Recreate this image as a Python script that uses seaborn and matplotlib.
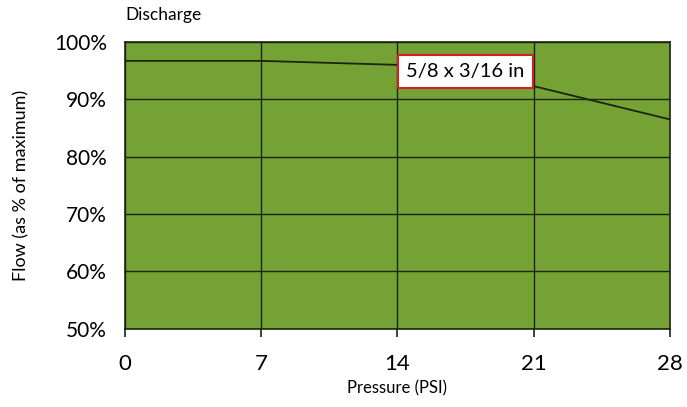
import pandas as pd
import matplotlib
matplotlib.use("Agg")
import matplotlib.pyplot as plt
import seaborn as sns

# Values
pressure = [0, 7, 14, 21, 28]
flow = [96.7, 96.7, 96.0, 92.3, 86.5]
x_ticks = [0, 7, 14, 21, 28]
y_ticks = [50, 60, 70, 80, 90, 100]
series_label = "5/8 x 3/16 in"

df = pd.DataFrame({"Pressure": pressure, "Flow": flow})

sns.set_style("ticks")
plt.rcParams["font.family"] = ["Lato", "DejaVu Sans"]
plt.rcParams["text.color"] = "black"
plt.rcParams["xtick.color"] = "black"
plt.rcParams["ytick.color"] = "black"
plt.rcParams["axes.labelcolor"] = "black"

fig = plt.figure(figsize=(6.87, 4.07), dpi=100)
ax = fig.add_axes([0.182, 0.192, 0.793, 0.705])
ax.set_facecolor("#74a234")

sns.lineplot(data=df, x="Pressure", y="Flow", ax=ax, color="#1a2410", linewidth=1.3, zorder=3)

ax.set_xlim(0, 28)
ax.set_ylim(50, 100)
ax.set_xticks(x_ticks)
ax.set_yticks(y_ticks)
ax.set_yticklabels([f"{v}%" for v in y_ticks])
ax.grid(True, color="#1a2410", linewidth=1.0)
ax.set_axisbelow(True)
for s in ax.spines.values():
    s.set_color("#1a2410")
    s.set_linewidth(1.2)

ax.tick_params(axis="x", labelsize=16, length=6, width=1.2, color="#1a2410", pad=12)
ax.tick_params(axis="y", labelsize=15, length=0, pad=13)
ax.set_xlabel("Pressure (PSI)", fontsize=12, labelpad=5)
ax.set_ylabel("Flow (as % of maximum)", fontsize=13, labelpad=18)

ax.text(17.5, 94.8, series_label, ha="center", va="center", fontsize=14.5, zorder=5,
        bbox=dict(boxstyle="square,pad=0.4", facecolor="white", edgecolor="#d42020", linewidth=1.5))
fig.text(0.182, 0.963, "Discharge", ha="left", va="center", fontsize=12.5)

fig.savefig("out.png", dpi=100)
